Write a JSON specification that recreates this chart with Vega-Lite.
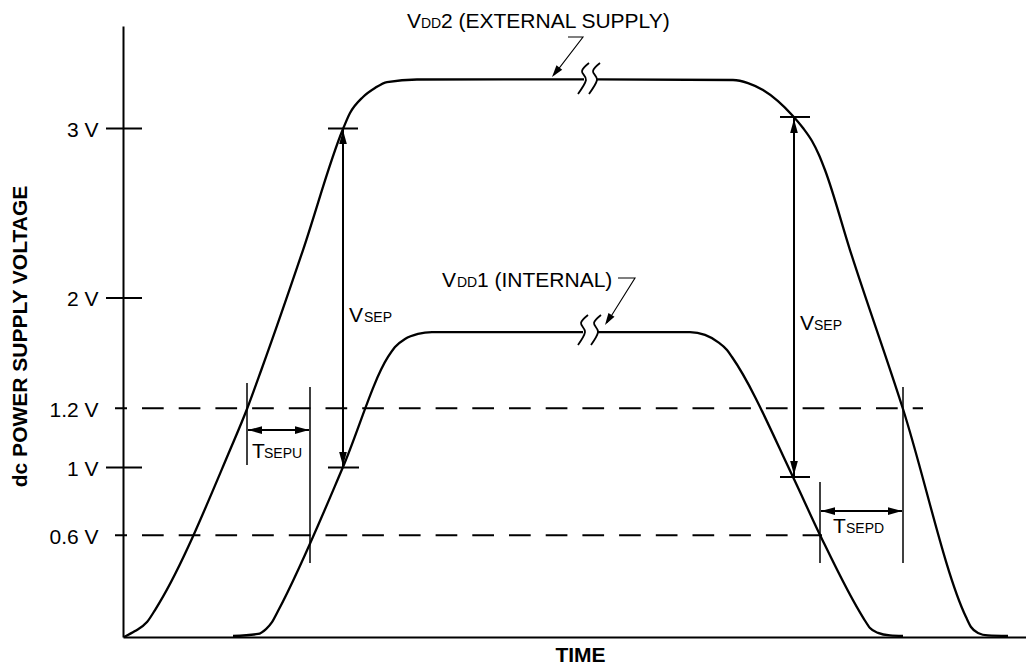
{
  "$schema": "https://vega.github.io/schema/vega-lite/v6.json",
  "width": 903,
  "height": 611,
  "autosize": {"type": "none"},
  "padding": {"left": 123, "top": 26, "right": 0, "bottom": 30},
  "background": "white",
  "config": {"view": {"stroke": null}, "font": "Liberation Sans"},
  "datasets": {
    "curves": [
      {"s": "VDD2 rise", "t": 1, "v": 0},
      {"s": "VDD2 rise", "t": 12, "v": 0.035},
      {"s": "VDD2 rise", "t": 24, "v": 0.088},
      {"s": "VDD2 rise", "t": 32, "v": 0.159},
      {"s": "VDD2 rise", "t": 107, "v": 1.103},
      {"s": "VDD2 rise", "t": 124, "v": 1.345},
      {"s": "VDD2 rise", "t": 139, "v": 1.587},
      {"s": "VDD2 rise", "t": 180, "v": 2.283},
      {"s": "VDD2 rise", "t": 220, "v": 2.997},
      {"s": "VDD2 rise", "t": 227, "v": 3.091},
      {"s": "VDD2 rise", "t": 240, "v": 3.186},
      {"s": "VDD2 rise", "t": 252, "v": 3.239},
      {"s": "VDD2 rise", "t": 264, "v": 3.274},
      {"s": "VDD2 rise", "t": 294, "v": 3.289},
      {"s": "VDD2 rise", "t": 461, "v": 3.29},
      {"s": "VDD2 fall", "t": 474, "v": 3.29},
      {"s": "VDD2 fall", "t": 610, "v": 3.286},
      {"s": "VDD2 fall", "t": 625, "v": 3.268},
      {"s": "VDD2 fall", "t": 640, "v": 3.227},
      {"s": "VDD2 fall", "t": 655, "v": 3.162},
      {"s": "VDD2 fall", "t": 669, "v": 3.08},
      {"s": "VDD2 fall", "t": 680, "v": 3.003},
      {"s": "VDD2 fall", "t": 689, "v": 2.926},
      {"s": "VDD2 fall", "t": 696, "v": 2.844},
      {"s": "VDD2 fall", "t": 702, "v": 2.755},
      {"s": "VDD2 fall", "t": 727, "v": 2.283},
      {"s": "VDD2 fall", "t": 780, "v": 1.345},
      {"s": "VDD2 fall", "t": 843, "v": 0.118},
      {"s": "VDD2 fall", "t": 848, "v": 0.059},
      {"s": "VDD2 fall", "t": 855, "v": 0.024},
      {"s": "VDD2 fall", "t": 865, "v": 0.009},
      {"s": "VDD2 fall", "t": 885, "v": 0.006},
      {"s": "VDD1 rise", "t": 110, "v": 0.006},
      {"s": "VDD1 rise", "t": 135, "v": 0.018},
      {"s": "VDD1 rise", "t": 143, "v": 0.047},
      {"s": "VDD1 rise", "t": 149, "v": 0.088},
      {"s": "VDD1 rise", "t": 155, "v": 0.153},
      {"s": "VDD1 rise", "t": 220, "v": 1.003},
      {"s": "VDD1 rise", "t": 265, "v": 1.652},
      {"s": "VDD1 rise", "t": 272, "v": 1.711},
      {"s": "VDD1 rise", "t": 282, "v": 1.758},
      {"s": "VDD1 rise", "t": 295, "v": 1.788},
      {"s": "VDD1 rise", "t": 309, "v": 1.799},
      {"s": "VDD1 rise", "t": 460, "v": 1.799},
      {"s": "VDD1 fall", "t": 475, "v": 1.799},
      {"s": "VDD1 fall", "t": 567, "v": 1.799},
      {"s": "VDD1 fall", "t": 582, "v": 1.782},
      {"s": "VDD1 fall", "t": 595, "v": 1.74},
      {"s": "VDD1 fall", "t": 604, "v": 1.693},
      {"s": "VDD1 fall", "t": 609, "v": 1.652},
      {"s": "VDD1 fall", "t": 670, "v": 0.944},
      {"s": "VDD1 fall", "t": 697, "v": 0.602},
      {"s": "VDD1 fall", "t": 741, "v": 0.106},
      {"s": "VDD1 fall", "t": 747, "v": 0.053},
      {"s": "VDD1 fall", "t": 755, "v": 0.024},
      {"s": "VDD1 fall", "t": 767, "v": 0.009},
      {"s": "VDD1 fall", "t": 780, "v": 0.006}
    ],
    "breaks": [
      {"s": "b1", "o": 0, "t": 466, "v": 3.386},
      {"s": "b1", "o": 1, "t": 459, "v": 3.339},
      {"s": "b1", "o": 2, "t": 463, "v": 3.286},
      {"s": "b1", "o": 3, "t": 455, "v": 3.204},
      {"s": "b2", "o": 0, "t": 477, "v": 3.386},
      {"s": "b2", "o": 1, "t": 470, "v": 3.339},
      {"s": "b2", "o": 2, "t": 474, "v": 3.286},
      {"s": "b2", "o": 3, "t": 466, "v": 3.204},
      {"s": "b3", "o": 0, "t": 465, "v": 1.9},
      {"s": "b3", "o": 1, "t": 458, "v": 1.853},
      {"s": "b3", "o": 2, "t": 462, "v": 1.799},
      {"s": "b3", "o": 3, "t": 455, "v": 1.723},
      {"s": "b4", "o": 0, "t": 478, "v": 1.9},
      {"s": "b4", "o": 1, "t": 471, "v": 1.853},
      {"s": "b4", "o": 2, "t": 475, "v": 1.799},
      {"s": "b4", "o": 3, "t": 468, "v": 1.723}
    ],
    "leaders": [
      {"s": "to VDD2", "o": 0, "t": 445, "v": 3.54},
      {"s": "to VDD2", "o": 1, "t": 460, "v": 3.54},
      {"s": "to VDD2", "o": 2, "t": 431, "v": 3.316},
      {"s": "to VDD1", "o": 0, "t": 495, "v": 2.118},
      {"s": "to VDD1", "o": 1, "t": 512, "v": 2.118},
      {"s": "to VDD1", "o": 2, "t": 484, "v": 1.854}
    ],
    "ticks": [
      {"t": -17, "v": 3, "t2": 19, "v2": 3},
      {"t": -17, "v": 2, "t2": 19, "v2": 2},
      {"t": -17, "v": 1, "t2": 19, "v2": 1}
    ],
    "dims": [
      {"t": 220, "v": 3, "t2": 220, "v2": 1},
      {"t": 205, "v": 3, "t2": 235, "v2": 3},
      {"t": 205, "v": 1, "t2": 236, "v2": 1},
      {"t": 671, "v": 3.068, "t2": 671, "v2": 0.944},
      {"t": 657, "v": 3.068, "t2": 687, "v2": 3.068},
      {"t": 657, "v": 0.944, "t2": 687, "v2": 0.944},
      {"t": 125, "v": 1.221, "t2": 186, "v2": 1.221},
      {"t": 698, "v": 0.743, "t2": 779, "v2": 0.743}
    ],
    "exts": [
      {"t": 124, "v": 1.499, "t2": 124, "v2": 1.015},
      {"t": 187, "v": 1.475, "t2": 187, "v2": 0.437},
      {"t": 697, "v": 0.914, "t2": 697, "v2": 0.437},
      {"t": 780, "v": 1.475, "t2": 780, "v2": 0.437}
    ],
    "dashes": [
      {"t": -8, "v": 1.35, "t2": 800, "v2": 1.35},
      {"t": -8, "v": 0.6, "t2": 699, "v2": 0.6}
    ],
    "heads": [
      {"use": "dimension", "t": 220, "v": 2.991, "dir": "up"},
      {"use": "dimension", "t": 220, "v": 1.009, "dir": "down"},
      {"use": "dimension", "t": 671, "v": 3.056, "dir": "up"},
      {"use": "dimension", "t": 671, "v": 0.956, "dir": "down"},
      {"use": "dimension", "t": 125, "v": 1.221, "dir": "left"},
      {"use": "dimension", "t": 186, "v": 1.221, "dir": "right"},
      {"use": "dimension", "t": 698, "v": 0.743, "dir": "left"},
      {"use": "dimension", "t": 779, "v": 0.743, "dir": "right"},
      {"use": "pointer", "t": 429, "v": 3.304, "dir": "to VDD2"},
      {"use": "pointer", "t": 482, "v": 1.841, "dir": "to VDD1"}
    ],
    "notes": [
      {"t": 284, "v": 3.593, "label": "V", "part": "main"},
      {"t": 298, "v": 3.593, "label": "DD", "part": "sub"},
      {"t": 318, "v": 3.593, "label": "2 (EXTERNAL SUPPLY)", "part": "main"},
      {"t": 319, "v": 2.065, "label": "V", "part": "main"},
      {"t": 334, "v": 2.065, "label": "DD", "part": "sub"},
      {"t": 354, "v": 2.065, "label": "1 (INTERNAL)", "part": "main"},
      {"t": 226, "v": 1.858, "label": "V", "part": "main"},
      {"t": 241, "v": 1.858, "label": "SEP", "part": "sub"},
      {"t": 677, "v": 1.811, "label": "V", "part": "main"},
      {"t": 691, "v": 1.811, "label": "SEP", "part": "sub"},
      {"t": 129, "v": 1.056, "label": "T", "part": "main"},
      {"t": 141, "v": 1.056, "label": "SEPU", "part": "sub"},
      {"t": 710, "v": 0.614, "label": "T", "part": "main"},
      {"t": 723, "v": 0.614, "label": "SEPD", "part": "sub"}
    ]
  },
  "encoding": {
    "x": {
      "field": "t",
      "type": "quantitative",
      "scale": {"domain": [0, 903], "nice": false, "zero": false},
      "axis": {
        "title": "TIME",
        "labels": false,
        "ticks": false,
        "grid": false,
        "domainColor": "black",
        "domainWidth": 2,
        "titleFont": "Liberation Sans",
        "titleFontSize": 21,
        "titleFontWeight": "bold",
        "titleColor": "black",
        "titleX": 457,
        "titleY": 24,
        "titleBaseline": "alphabetic",
        "titleAlign": "center"
      }
    },
    "y": {
      "field": "v",
      "type": "quantitative",
      "scale": {"domain": [0, 3.6047], "nice": false, "zero": false},
      "axis": {
        "values": [0.6, 1, 1.35, 2, 3],
        "labelExpr": "datum.value == 1.35 ? '1.2 V' : datum.value + ' V'",
        "labelFont": "Liberation Sans",
        "labelFontSize": 21,
        "labelColor": "black",
        "labelPadding": 25,
        "labelOffset": 2,
        "labelBaseline": "middle",
        "labelOverlap": false,
        "ticks": false,
        "tickSize": 0,
        "grid": false,
        "domainColor": "black",
        "domainWidth": 2,
        "title": "dc POWER SUPPLY VOLTAGE",
        "titleFont": "Liberation Sans",
        "titleFontSize": 21,
        "titleFontWeight": "bold",
        "titleColor": "black",
        "titleAngle": -90,
        "titleX": -97,
        "titleY": 310,
        "titleBaseline": "alphabetic",
        "titleAlign": "center"
      }
    }
  },
  "layer": [
    {
      "data": {"name": "dashes"},
      "mark": {"type": "rule", "color": "black", "strokeWidth": 2, "strokeDash": [21.7, 15], "strokeDashOffset": 9.7},
      "encoding": {"x2": {"field": "t2"}, "y2": {"field": "v2"}}
    },
    {
      "data": {"name": "ticks"},
      "mark": {"type": "rule", "color": "black", "strokeWidth": 2},
      "encoding": {"x2": {"field": "t2"}, "y2": {"field": "v2"}}
    },
    {
      "data": {"name": "dims"},
      "mark": {"type": "rule", "color": "black", "strokeWidth": 2},
      "encoding": {"x2": {"field": "t2"}, "y2": {"field": "v2"}}
    },
    {
      "data": {"name": "exts"},
      "mark": {"type": "rule", "color": "black", "strokeWidth": 1.5},
      "encoding": {"x2": {"field": "t2"}, "y2": {"field": "v2"}}
    },
    {
      "data": {"name": "curves"},
      "mark": {"type": "line", "color": "black", "strokeWidth": 2.3, "interpolate": "monotone"},
      "encoding": {"detail": {"field": "s"}}
    },
    {
      "data": {"name": "breaks"},
      "mark": {"type": "line", "color": "black", "strokeWidth": 1.8, "interpolate": "cardinal"},
      "encoding": {"detail": {"field": "s"}, "order": {"field": "o"}}
    },
    {
      "data": {"name": "leaders"},
      "mark": {"type": "line", "color": "black", "strokeWidth": 1.1},
      "encoding": {"detail": {"field": "s"}, "order": {"field": "o"}}
    },
    {
      "data": {"name": "heads"},
      "transform": [{"filter": "datum.use == 'dimension'"}],
      "mark": {"type": "point", "filled": true, "color": "black", "opacity": 1, "size": 196, "strokeWidth": 0},
      "encoding": {
        "shape": {
          "field": "dir",
          "type": "nominal",
          "legend": null,
          "scale": {
            "domain": ["up", "down", "left", "right", "to VDD2", "to VDD1"],
            "range": ["M0,0L0.55,2L-0.55,2Z", "M0,0L0.55,-2L-0.55,-2Z", "M0,0L2,0.55L2,-0.55Z", "M0,0L-2,0.55L-2,-0.55Z", "M0,0L1.7,-1.213L0.75,-1.949Z", "M0,0L1.582,-1.363L0.57,-2.009Z"]
          }
        }
      }
    },
    {
      "data": {"name": "heads"},
      "transform": [{"filter": "datum.use == 'pointer'"}],
      "mark": {"type": "point", "filled": true, "color": "black", "opacity": 1, "size": 144, "strokeWidth": 0},
      "encoding": {
        "shape": {"field": "dir", "type": "nominal", "legend": null}
      }
    },
    {
      "data": {"name": "notes"},
      "transform": [{"filter": "datum.part == 'main'"}],
      "mark": {"type": "text", "font": "Liberation Sans", "fontSize": 21, "align": "left", "baseline": "alphabetic", "color": "black"},
      "encoding": {"text": {"field": "label"}}
    },
    {
      "data": {"name": "notes"},
      "transform": [{"filter": "datum.part == 'sub'"}],
      "mark": {"type": "text", "font": "Liberation Sans", "fontSize": 14, "align": "left", "baseline": "alphabetic", "color": "black"},
      "encoding": {"text": {"field": "label"}}
    }
  ]
}
